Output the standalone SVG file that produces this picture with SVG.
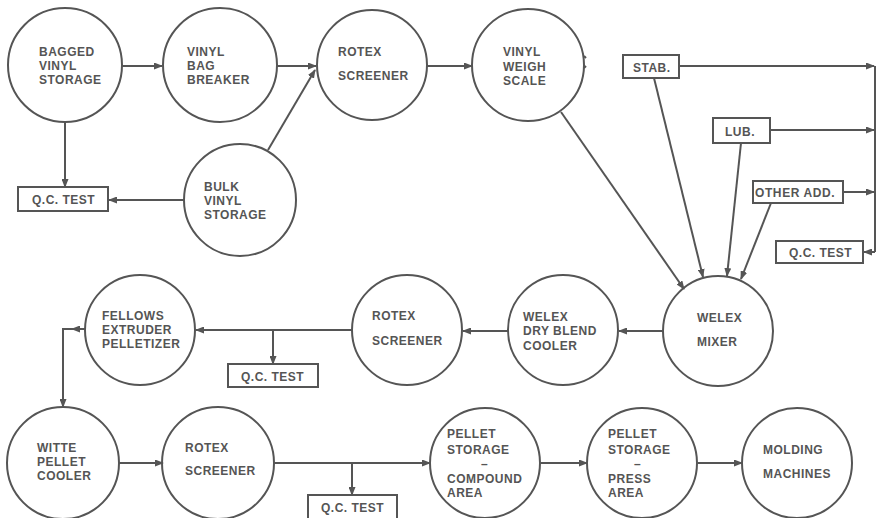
<svg xmlns="http://www.w3.org/2000/svg" width="876" height="518" viewBox="0 0 876 518">
<style>
.n{fill:none;stroke:#555;stroke-width:2}
.b{fill:#fff;stroke:#555;stroke-width:2}
.c{fill:none;stroke:#555;stroke-width:2}
text{font-family:"Liberation Sans",Arial,sans-serif;font-weight:bold;font-size:12px;fill:#555;letter-spacing:0.5px}
</style>
<defs>
<marker id="a" markerUnits="userSpaceOnUse" markerWidth="9" markerHeight="7" refX="8" refY="3.5" orient="auto">
<path d="M0,0 L9,3.5 L0,7 z" fill="#555"/>
</marker>
</defs>
<rect width="876" height="518" fill="#fff"/>
<g id="connectors">
<path class="c" d="M122,66 H162" marker-end="url(#a)"/>
<path class="c" d="M277,66 H316" marker-end="url(#a)"/>
<path class="c" d="M268,150 L315,70" marker-end="url(#a)"/>
<path class="c" d="M65,122 V187" marker-end="url(#a)"/>
<path class="c" d="M184,200 H109" marker-end="url(#a)"/>
<path class="c" d="M427,66 H472" marker-end="url(#a)"/>
<path class="c" d="M584,56 l2,2 M584,68 l2,-2"/>
<path class="c" d="M561,112 L684,289" marker-end="url(#a)"/>
<path class="c" d="M654,78 L703,277" marker-end="url(#a)"/>
<path class="c" d="M741,143 L727,276" marker-end="url(#a)"/>
<path class="c" d="M771,203 L741,279" marker-end="url(#a)"/>
<path class="c" d="M679,66 H874" marker-end="url(#a)"/>
<path class="c" d="M770,130 H874" marker-end="url(#a)"/>
<path class="c" d="M843,192 H874" marker-end="url(#a)"/>
<path class="c" d="M875,66 V252"/>
<path class="c" d="M875,252 H864" marker-end="url(#a)"/>
<path class="c" d="M663,331 H619" marker-end="url(#a)"/>
<path class="c" d="M508,331 H463" marker-end="url(#a)"/>
<path class="c" d="M352,330 H196" marker-end="url(#a)"/>
<path class="c" d="M273,330 V364" marker-end="url(#a)"/>
<path class="c" d="M85,329 H72" marker-end="url(#a)"/>
<path class="c" d="M73,329 H63 V407" marker-end="url(#a)"/>
<path class="c" d="M119,463 H163" marker-end="url(#a)"/>
<path class="c" d="M274,463 H430" marker-end="url(#a)"/>
<path class="c" d="M352,463 V495" marker-end="url(#a)"/>
<path class="c" d="M541,463 H587" marker-end="url(#a)"/>
<path class="c" d="M698,463 H742" marker-end="url(#a)"/>
</g>
<g id="bagged"><circle class="n" cx="65" cy="65" r="57"/><text x="39" y="56">BAGGED</text><text x="39" y="70">VINYL</text><text x="39" y="84">STORAGE</text></g>
<g id="bagbreaker"><circle class="n" cx="220" cy="65" r="57"/><text x="187" y="56">VINYL</text><text x="187" y="70">BAG</text><text x="187" y="84">BREAKER</text></g>
<g id="rotex1"><circle class="n" cx="372" cy="65" r="55"/><text x="338" y="56">ROTEX</text><text x="338" y="80">SCREENER</text></g>
<g id="weigh"><circle class="n" cx="528" cy="65" r="56"/><text x="503" y="56">VINYL</text><text x="503" y="71">WEIGH</text><text x="503" y="85">SCALE</text></g>
<g id="bulk"><circle class="n" cx="240" cy="200" r="56"/><text x="204" y="191">BULK</text><text x="204" y="205">VINYL</text><text x="204" y="219">STORAGE</text></g>
<g id="qc1"><rect class="b" x="18" y="187" width="90" height="24"/><text x="32" y="204">Q.C. TEST</text></g>
<g id="stab"><rect class="b" x="623" y="55" width="56" height="23"/><text x="633" y="72">STAB.</text></g>
<g id="lub"><rect class="b" x="713" y="118" width="57" height="25"/><text x="725" y="136">LUB.</text></g>
<g id="other"><rect class="b" x="753" y="181" width="90" height="22"/><text x="755" y="197" style="letter-spacing:0.6px">OTHER ADD.</text></g>
<g id="qc2"><rect class="b" x="776" y="241" width="87" height="22"/><text x="789" y="257">Q.C. TEST</text></g>
<g id="mixer"><circle class="n" cx="718" cy="331" r="55"/><text x="697" y="322">WELEX</text><text x="697" y="346">MIXER</text></g>
<g id="cooler"><circle class="n" cx="563" cy="330" r="55"/><text x="523" y="321">WELEX</text><text x="523" y="335">DRY BLEND</text><text x="523" y="350">COOLER</text></g>
<g id="rotex2"><circle class="n" cx="407" cy="330" r="55"/><text x="372" y="320">ROTEX</text><text x="372" y="345">SCREENER</text></g>
<g id="qc3"><rect class="b" x="228" y="364" width="90" height="23"/><text x="241" y="381">Q.C. TEST</text></g>
<g id="fellows"><circle class="n" cx="140" cy="330" r="55"/><text x="102" y="320">FELLOWS</text><text x="102" y="334">EXTRUDER</text><text x="102" y="348">PELLETIZER</text></g>
<g id="witte"><circle class="n" cx="63" cy="463" r="56"/><text x="37" y="452">WITTE</text><text x="37" y="466">PELLET</text><text x="37" y="480">COOLER</text></g>
<g id="rotex3"><circle class="n" cx="218" cy="463" r="56"/><text x="185" y="452">ROTEX</text><text x="185" y="475">SCREENER</text></g>
<g id="qc4"><rect class="b" x="308" y="495" width="89" height="26"/><text x="321" y="512">Q.C. TEST</text></g>
<g id="compound"><circle class="n" cx="485" cy="463" r="55"/><text x="447" y="438">PELLET</text><text x="447" y="454">STORAGE</text><text x="481" y="468">–</text><text x="447" y="483">COMPOUND</text><text x="447" y="497">AREA</text></g>
<g id="press"><circle class="n" cx="642" cy="463" r="55"/><text x="608" y="438">PELLET</text><text x="608" y="454">STORAGE</text><text x="634" y="468">–</text><text x="608" y="483">PRESS</text><text x="608" y="497">AREA</text></g>
<g id="molding"><circle class="n" cx="797" cy="463" r="55"/><text x="763" y="454">MOLDING</text><text x="763" y="478">MACHINES</text></g>
</svg>
